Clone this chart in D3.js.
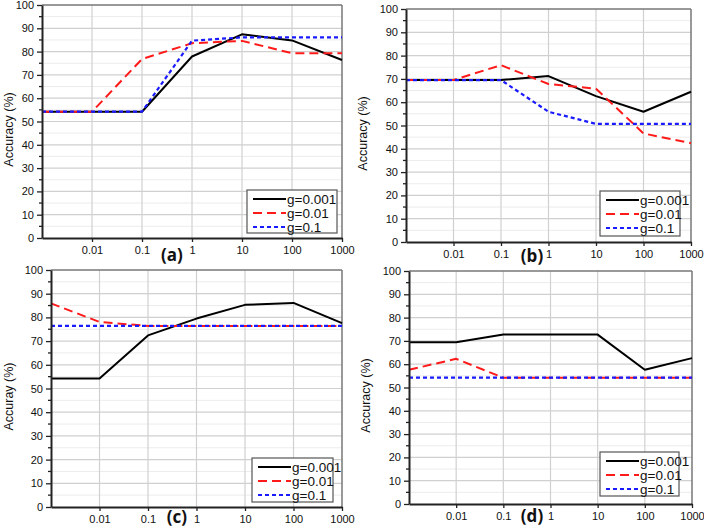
<!DOCTYPE html>
<html><head><meta charset="utf-8">
<script src="https://cdn.jsdelivr.net/npm/d3@7"></script>
<style>body{margin:0;background:#fff}svg{display:block}</style>
</head><body><svg id="c" width="704" height="527"></svg>
<script>
const xValues = [0.001, 0.01, 0.1, 1, 10, 100, 1000];
const xTickValues = [0.01, 0.1, 1, 10, 100, 1000];
const xTickLabels = ["0.01", "0.1", "1", "10", "100", "1000"];
const yTickValues = [0, 10, 20, 30, 40, 50, 60, 70, 80, 90, 100];
const seriesNames = ["g=0.001", "g=0.01", "g=0.1"];
const panelLetters = ["(a)", "(b)", "(c)", "(d)"];
const yTitles = ["Accuracy (%)", "Accuracy (%)", "Accuray (%)", "Accuracy (%)"];

const a_g0001 = [54.2, 54.2, 54.2, 77.9, 87.4, 84.8, 76.4];
const a_g001  = [54.2, 54.2, 76.8, 83.6, 84.6, 79.3, 79.3];
const a_g01   = [54.2, 54.2, 54.2, 84.7, 86.1, 86.1, 86.1];

const b_g0001 = [69.5, 69.5, 69.5, 71.2, 62.6, 55.9, 64.5];
const b_g001  = [69.5, 69.5, 75.9, 67.8, 65.8, 46.6, 42.4];
const b_g01   = [69.5, 69.5, 69.5, 55.9, 50.7, 50.7, 50.7];

const c_g0001 = [54.2, 54.2, 72.4, 79.5, 85.3, 86.1, 77.6];
const c_g001  = [85.9, 78.1, 76.4, 76.4, 76.4, 76.4, 76.4];
const c_g01   = [76.4, 76.4, 76.4, 76.4, 76.4, 76.4, 76.4];

const d_g0001 = [69.4, 69.4, 72.7, 72.7, 72.7, 57.6, 62.6];
const d_g001  = [57.6, 62.3, 54.2, 54.2, 54.2, 54.2, 54.2];
const d_g01   = [54.2, 54.2, 54.2, 54.2, 54.2, 54.2, 54.2];

const panelData = [
  [a_g0001, a_g001, a_g01],
  [b_g0001, b_g001, b_g01],
  [c_g0001, c_g001, c_g01],
  [d_g0001, d_g001, d_g01]
];

// layout (pixels)
const boxes = [
  {l: 42, r: 342, t: 5, b: 238, titleX: 9, letterX: 172, letterY: 261, leg: {x: 247, y: 190, w: 90, h: 43}},
  {l: 406, r: 691, t: 9, b: 242, titleX: 363, letterX: 532, letterY: 262, leg: {x: 600, y: 191, w: 80, h: 45}},
  {l: 51, r: 342, t: 270, b: 507, titleX: 9, letterX: 177, letterY: 523, leg: {x: 252, y: 458, w: 81, h: 44}},
  {l: 409, r: 692, t: 271, b: 504, titleX: 366, letterX: 532, letterY: 522, leg: {x: 600, y: 452, w: 79, h: 44}}
];
const styles = [
  {color: "#000", dash: null, w: 2},
  {color: "#ff1a1a", dash: "9,5", w: 2},
  {color: "#1a1aff", dash: "4,3", w: 2.2}
];
const FONT = "'Liberation Sans', Arial, sans-serif";

const svg = d3.select("#c");

boxes.forEach((bx, pi) => {
  const x = d3.scaleLog().domain([0.001, 1000]).range([bx.l, bx.r]);
  const y = d3.scaleLinear().domain([0, 100]).range([bx.b, bx.t]);
  const g = svg.append("g");

  // minor horizontal grid at 5s
  g.selectAll(".mg").data(d3.range(5, 100, 10)).enter().append("line")
    .attr("x1", bx.l).attr("x2", bx.r).attr("y1", d => y(d)).attr("y2", d => y(d))
    .attr("stroke", "#ececec").attr("stroke-width", 1);
  // major horizontal grid
  g.selectAll(".hg").data(yTickValues.slice(1, -1)).enter().append("line")
    .attr("x1", bx.l).attr("x2", bx.r).attr("y1", d => y(d)).attr("y2", d => y(d))
    .attr("stroke", "#d0d0d0").attr("stroke-width", 1.2);
  // vertical grid
  g.selectAll(".vg").data(xTickValues.slice(0, -1)).enter().append("line")
    .attr("y1", bx.t).attr("y2", bx.b).attr("x1", d => x(d)).attr("x2", d => x(d))
    .attr("stroke", "#d0d0d0").attr("stroke-width", 1.2);

  // top & right frame (grey)
  g.append("line").attr("x1", bx.l).attr("x2", bx.r).attr("y1", bx.t).attr("y2", bx.t)
    .attr("stroke", "#777").attr("stroke-width", 1.5);
  g.append("line").attr("x1", bx.r).attr("x2", bx.r).attr("y1", bx.t).attr("y2", bx.b)
    .attr("stroke", "#777").attr("stroke-width", 1.5);

  // data lines
  const line = d3.line().x((d, i) => x(xValues[i])).y(d => y(d));
  panelData[pi].forEach((vals, si) => {
    const st = styles[si];
    g.append("path").datum(vals).attr("d", line)
      .attr("fill", "none").attr("stroke", st.color).attr("stroke-width", st.w)
      .attr("stroke-dasharray", st.dash).attr("stroke-linejoin", "round");
  });

  // axes
  const yAxis = d3.axisLeft(y).tickValues(yTickValues).tickSize(5).tickPadding(3).tickSizeOuter(0);
  const ya = g.append("g").attr("transform", `translate(${bx.l},0)`).call(yAxis);
  // minor y ticks
  g.selectAll(".myt").data(d3.range(5, 100, 10)).enter().append("line")
    .attr("x1", bx.l - 3).attr("x2", bx.l).attr("y1", d => y(d)).attr("y2", d => y(d))
    .attr("stroke", "#222").attr("stroke-width", 1.3);
  const xAxis = d3.axisBottom(x).tickValues(xTickValues).tickFormat((d, i) => xTickLabels[i])
    .tickSize(4).tickPadding(4).tickSizeOuter(0);
  const xa = g.append("g").attr("transform", `translate(0,${bx.b})`).call(xAxis);
  [ya, xa].forEach(ax => {
    ax.select(".domain").attr("stroke", "#222").attr("stroke-width", 2);
    ax.selectAll(".tick line").attr("stroke", "#222").attr("stroke-width", 1.3);
    ax.selectAll("text").attr("font-family", FONT).attr("font-size", 11).attr("fill", "#111");
  });

  // y title
  g.append("text").attr("transform", `translate(${bx.titleX},${(bx.t + bx.b) / 2 + 8}) rotate(-90)`)
    .attr("text-anchor", "middle").attr("dominant-baseline", "central")
    .attr("font-family", FONT).attr("font-size", 12.5).attr("fill", "#111").text(yTitles[pi]);

  // panel letter
  g.append("text").attr("x", bx.letterX).attr("y", bx.letterY).attr("text-anchor", "middle")
    .attr("font-family", "'Open Sans', " + FONT).attr("font-weight", "bold").attr("font-size", 17)
    .attr("fill", "#111").text(panelLetters[pi]);

  // legend
  const lg = bx.leg;
  g.append("rect").attr("x", lg.x).attr("y", lg.y).attr("width", lg.w).attr("height", lg.h)
    .attr("fill", "#fff").attr("stroke", "#555").attr("stroke-width", 1.2);
  seriesNames.forEach((name, si) => {
    const st = styles[si];
    const ry = lg.y + 9 + si * 14;
    g.append("line").attr("x1", lg.x + 6).attr("x2", lg.x + 39).attr("y1", ry).attr("y2", ry)
      .attr("stroke", st.color).attr("stroke-width", st.w).attr("stroke-dasharray", st.dash);
    g.append("text").attr("x", lg.x + 40).attr("y", ry).attr("dominant-baseline", "central")
      .attr("font-family", FONT).attr("font-size", 13.5).attr("fill", "#111").text(name);
  });
});
</script></body></html>
